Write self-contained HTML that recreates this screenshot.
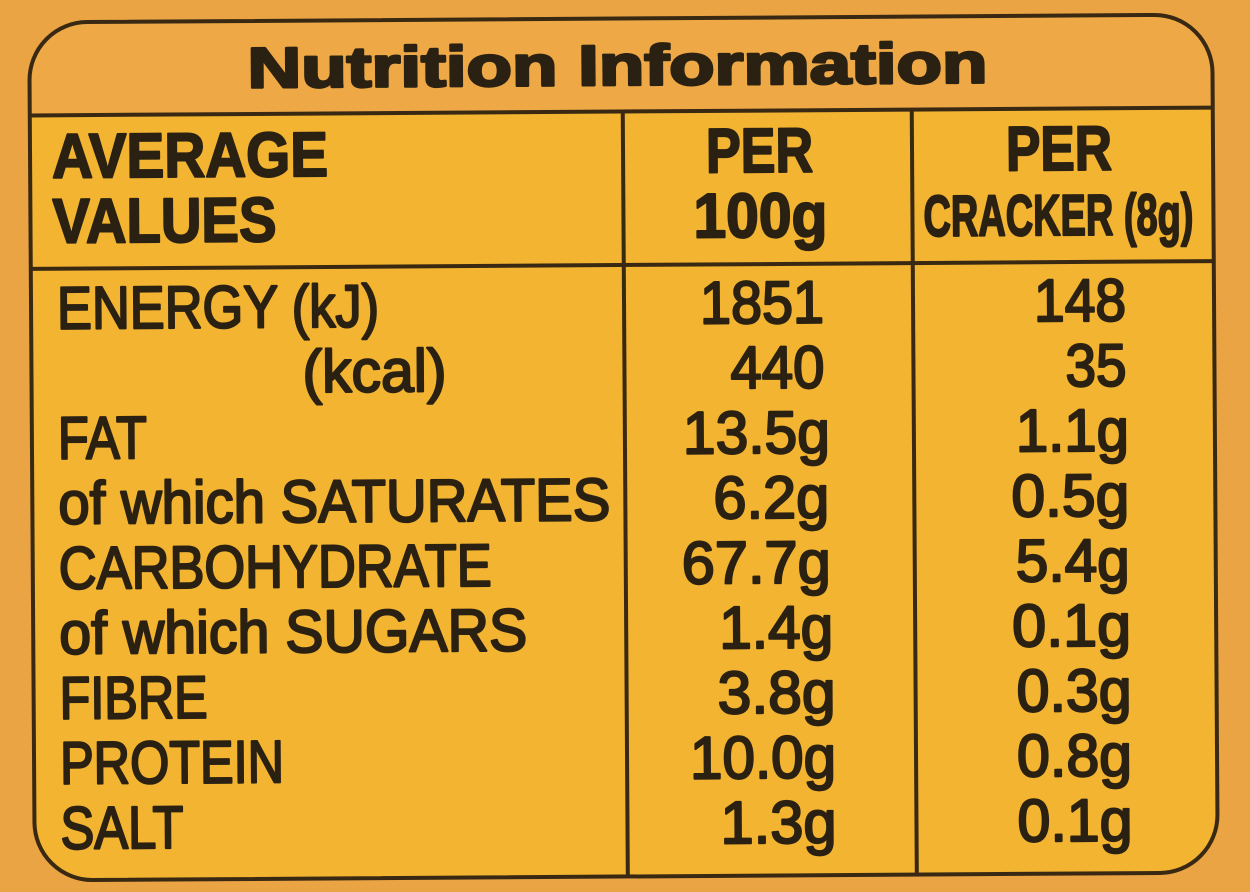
<!DOCTYPE html>
<html>
<head>
<meta charset="utf-8">
<style>
  html,body{margin:0;padding:0;background:#EAA444;}
  svg{display:block;}
  .t{fill:#2a2112;stroke:#2a2112;font-family:"Liberation Sans","DejaVu Sans",sans-serif;stroke-linejoin:round;}
  .r{font-size:60px;font-weight:400;stroke-width:2.2px;}
  .h{font-size:63px;font-weight:700;stroke-width:2px;}
  .ti{font-size:57px;font-weight:700;stroke-width:2.6px;}
</style>
</head>
<body>
<svg width="1250" height="892" viewBox="0 0 1250 892" xmlns="http://www.w3.org/2000/svg">
  <rect x="0" y="0" width="1250" height="892" fill="#EAA444"/>
  <g transform="rotate(-0.38 625 450)">
    <rect x="32" y="18.5" width="1183" height="858" rx="58" ry="58" fill="#F2B431"/>
    <path d="M32,111.5 V76.5 A58,58 0 0 1 90,18.5 H1157 A58,58 0 0 1 1215,76.5 V111.5 Z" fill="#EEA946"/>
    <rect x="32" y="18.5" width="1183" height="858" rx="58" ry="58" fill="none" stroke="#3a2912" stroke-width="4"/>
    <line x1="32" y1="111.5" x2="1215" y2="111.5" stroke="#3a2912" stroke-width="4"/>
    <line x1="32" y1="265" x2="1215" y2="265" stroke="#3a2912" stroke-width="4"/>
    <line x1="625" y1="111.5" x2="625" y2="876.5" stroke="#3a2912" stroke-width="4"/>
    <line x1="914" y1="111.5" x2="914" y2="876.5" stroke="#3a2912" stroke-width="4"/>

    <text class="t ti" x="250" y="85" textLength="740" lengthAdjust="spacingAndGlyphs">Nutrition Information</text>

    <text class="t h" x="54" y="174" textLength="276" lengthAdjust="spacingAndGlyphs">AVERAGE</text>
    <text class="t h" x="54" y="239" textLength="224" lengthAdjust="spacingAndGlyphs">VALUES</text>
    <text class="t h" x="708" y="173" textLength="107" lengthAdjust="spacingAndGlyphs">PER</text>
    <text class="t h" x="695" y="238" textLength="134" lengthAdjust="spacingAndGlyphs">100g</text>
    <text class="t h" x="1008" y="173" textLength="106" lengthAdjust="spacingAndGlyphs">PER</text>
    <text class="t h" x="925" y="238" textLength="270" lengthAdjust="spacingAndGlyphs" style="font-size:58px">CRACKER (8g)</text>

    <text class="t r" x="58" y="325" textLength="322" lengthAdjust="spacingAndGlyphs">ENERGY (kJ)</text>
    <text class="t r" x="303" y="390" textLength="144" lengthAdjust="spacingAndGlyphs">(kcal)</text>
    <text class="t r" x="58" y="455" textLength="89" lengthAdjust="spacingAndGlyphs">FAT</text>
    <text class="t r" x="58" y="520" textLength="552" lengthAdjust="spacingAndGlyphs">of which SATURATES</text>
    <text class="t r" x="58" y="585" textLength="433" lengthAdjust="spacingAndGlyphs">CARBOHYDRATE</text>
    <text class="t r" x="58" y="650" textLength="468" lengthAdjust="spacingAndGlyphs">of which SUGARS</text>
    <text class="t r" x="58" y="715" textLength="148" lengthAdjust="spacingAndGlyphs">FIBRE</text>
    <text class="t r" x="58" y="780" textLength="224" lengthAdjust="spacingAndGlyphs">PROTEIN</text>
    <text class="t r" x="58" y="845" textLength="123" lengthAdjust="spacingAndGlyphs">SALT</text>

    <text class="t r" x="701" y="324" textLength="124" lengthAdjust="spacingAndGlyphs">1851</text>
    <text class="t r" x="731" y="389" textLength="94" lengthAdjust="spacingAndGlyphs">440</text>
    <text class="t r" x="683" y="454" textLength="147" lengthAdjust="spacingAndGlyphs">13.5g</text>
    <text class="t r" x="713" y="519" textLength="116" lengthAdjust="spacingAndGlyphs">6.2g</text>
    <text class="t r" x="681" y="584" textLength="149" lengthAdjust="spacingAndGlyphs">67.7g</text>
    <text class="t r" x="718" y="649" textLength="114" lengthAdjust="spacingAndGlyphs">1.4g</text>
    <text class="t r" x="716" y="714" textLength="118" lengthAdjust="spacingAndGlyphs">3.8g</text>
    <text class="t r" x="688" y="779" textLength="146" lengthAdjust="spacingAndGlyphs">10.0g</text>
    <text class="t r" x="718" y="844" textLength="116" lengthAdjust="spacingAndGlyphs">1.3g</text>

    <text class="t r" x="1035" y="324" textLength="92" lengthAdjust="spacingAndGlyphs">148</text>
    <text class="t r" x="1066" y="389" textLength="61" lengthAdjust="spacingAndGlyphs">35</text>
    <text class="t r" x="1016" y="454" textLength="113" lengthAdjust="spacingAndGlyphs">1.1g</text>
    <text class="t r" x="1011" y="519" textLength="118" lengthAdjust="spacingAndGlyphs">0.5g</text>
    <text class="t r" x="1015" y="584" textLength="114" lengthAdjust="spacingAndGlyphs">5.4g</text>
    <text class="t r" x="1011" y="649" textLength="119" lengthAdjust="spacingAndGlyphs">0.1g</text>
    <text class="t r" x="1015" y="714" textLength="115" lengthAdjust="spacingAndGlyphs">0.3g</text>
    <text class="t r" x="1015" y="779" textLength="115" lengthAdjust="spacingAndGlyphs">0.8g</text>
    <text class="t r" x="1015" y="844" textLength="115" lengthAdjust="spacingAndGlyphs">0.1g</text>
  </g>
</svg>
</body>
</html>
